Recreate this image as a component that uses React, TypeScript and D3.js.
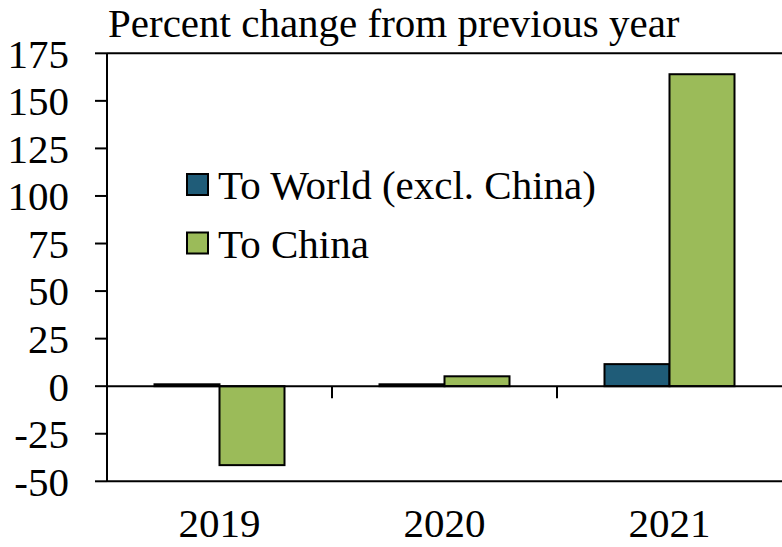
import React from "react";
import * as d3 from "d3";

const categories = ["2019", "2020", "2021"];
const seriesNames = ["To World (excl. China)", "To China"];
const toWorld = [1, 1, 11.6];
const toChina = [-41.5, 5.2, 164];
const yTicks = [-50, -25, 0, 25, 50, 75, 100, 125, 150, 175];
const colors = ["#1F5C78", "#9BBB59"];

export default function App() {
  const W = 782, H = 547;
  const left = 107, right = 782, top = 53.3, bottom = 481.3;
  const font = "'Liberation Serif', 'DejaVu Serif', serif";
  const fs = 41;
  const y = d3.scaleLinear().domain([-50, 175]).range([bottom, top]);
  const x0 = d3.scaleBand().domain(categories).range([left, right]).paddingInner(0).paddingOuter(0);
  const bw = 65;
  const barX = (i: number, s: number) => (x0(categories[i]) as number) + x0.bandwidth() / 2 - bw + s * bw;
  const data = [toWorld, toChina];
  return (
    <svg width={W} height={H} style={{ position: "absolute", left: 0, top: 0 }}>
      <rect x={0} y={0} width={W} height={H} fill="#fff" />
      <text x={108} y={37} fontFamily={font} fontSize={fs} fill="#000">Percent change from previous year</text>
      <line x1={left} x2={right} y1={top} y2={top} stroke="#000" strokeWidth={2} />
      <line x1={left} x2={right} y1={bottom} y2={bottom} stroke="#000" strokeWidth={2} />
      <line x1={left} x2={left} y1={top} y2={bottom} stroke="#000" strokeWidth={2} />
      {yTicks.map((t) => (
        <g key={t}>
          <line x1={left - 12} x2={left} y1={y(t)} y2={y(t)} stroke="#000" strokeWidth={2} />
          <text x={69} y={y(t)} dy="0.35em" textAnchor="end" fontFamily={font} fontSize={fs} fill="#000">{t}</text>
        </g>
      ))}
      {data.map((vals, s) =>
        vals.map((v, i) => (
          <rect key={`${s}-${i}`} x={barX(i, s)} width={bw} y={y(Math.max(0, v))} height={Math.abs(y(v) - y(0))}
            fill={colors[s]} stroke="#000" strokeWidth={2} />
        ))
      )}
      <line x1={left} x2={right} y1={y(0)} y2={y(0)} stroke="#000" strokeWidth={2} />
      {categories.slice(1).map((c) => (
        <line key={c} x1={x0(c)} x2={x0(c)} y1={y(0)} y2={y(0) + 12} stroke="#000" strokeWidth={2} />
      ))}
      {categories.map((c) => (
        <text key={c} x={(x0(c) as number) + x0.bandwidth() / 2} y={537} textAnchor="middle" fontFamily={font} fontSize={fs} fill="#000">{c}</text>
      ))}
      {seriesNames.map((n, s) => (
        <g key={n}>
          <rect x={187} y={174 + s * 58.5} width={21} height={21} fill={colors[s]} stroke="#000" strokeWidth={2} />
          <text x={218} y={185 + s * 58.5} dy="0.35em" fontFamily={font} fontSize={fs} fill="#000">{n}</text>
        </g>
      ))}
    </svg>
  );
}
